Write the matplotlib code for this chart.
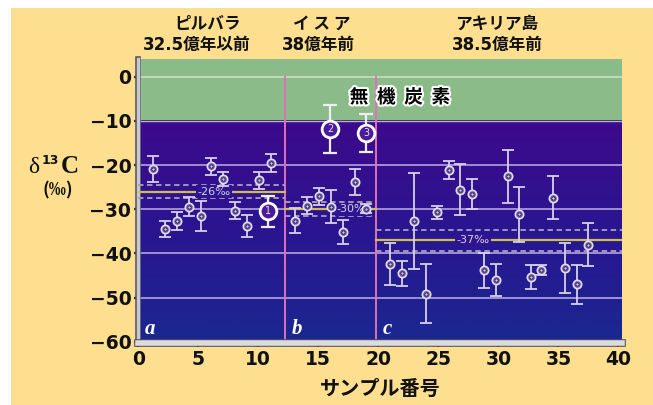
import numpy as np
import matplotlib
matplotlib.use("Agg")
import matplotlib.pyplot as plt
from matplotlib import font_manager
from matplotlib.colors import LinearSegmentedColormap
import matplotlib.patheffects as pe

# ---- data -------------------------------------------------------------
# Pilbara (a)
xa = [1.2, 2.2, 3.2, 4.2, 5.2, 6.1, 7.1, 8.1, 9.1, 10.1, 11.1]
ya = [-20.9, -34.5, -32.6, -29.4, -31.6, -20.3, -23.2, -30.3, -33.8, -23.4, -19.6]
ea = [3.0, 1.8, 2.0, 2.1, 3.4, 1.9, 1.6, 2.0, 2.4, 1.9, 2.0]
# Isua (b)
xb = [13.1, 14.1, 15.1, 16.1, 17.1, 18.1, 19.0]
yb = [-32.6, -29.2, -27.1, -29.4, -35.1, -23.9, -29.9]
eb = [2.8, 1.9, 2.0, 3.7, 2.7, 2.9, 1.0]
# Akilia (c)
xc = [21.0, 22.0, 23.0, 24.0, 24.9, 25.9, 26.8, 27.8, 28.8, 29.8, 30.8, 31.7,
      32.7, 33.6, 34.6, 35.6, 36.6, 37.5]
yc = [-42.4, -44.5, -32.6, -49.1, -30.7, -21.1, -25.6, -26.5, -43.8, -46.0,
      -22.5, -31.1, -45.3, -43.7, -27.4, -43.3, -47.0, -38.0]
ec = [4.7, 2.8, 10.9, 6.7, 1.5, 2.0, 5.8, 3.4, 4.0, 3.6, 6.0, 6.2, 2.7, 1.1,
      4.9, 5.7, 4.4, 4.8]
# numbered samples
xn = [10.8, 16.0, 19.0]
yn = [-30.5, -11.9, -12.7]
en = [3.6, 5.4, 4.3]
labels_n = ["1", "2", "3"]

# section boundaries, means and spread
bounds = [0, 12.2, 19.8, 40.27]
means = [-26, -30, -37]
spread = [1.4, 1.6, 2.35]
mean_label_x = [6.3, 17.9, 27.9]
section_letters = ["a", "b", "c"]
site_names = ["ピルバラ", "イ ス ア", "アキリア島"]
site_ages = ["32.5億年以前", "38億年前", "38.5億年前"]
name_x = [5.8, 15.3, 29.9]
age_x = [4.9, 15.0, 29.9]

inorganic = -10  # upper band: inorganic carbon
yticks = [0, -10, -20, -30, -40, -50, -60]
xticks = [0, 5, 10, 15, 20, 25, 30, 35, 40]

# ---- fonts ------------------------------------------------------------
cond = None
for f in font_manager.fontManager.ttflist:
    if f.stretch in ("condensed", "semi-condensed") and f.weight in (700, "bold") \
            and "Mono" not in f.name and "Serif" not in f.name:
        cond = f.fname
        break
if cond is None:
    for f in font_manager.fontManager.ttflist:
        if "Narrow" in f.name and f.weight in (700, "bold"):
            cond = f.fname
            break
if cond is not None:
    font_manager.fontManager.addfont(cond)
    cond_prop = font_manager.FontProperties(fname=cond)
    cond_name = cond_prop.get_name()
else:
    cond_name = "Roboto"
num_font = [cond_name, "Noto Sans CJK JP", "DejaVu Sans"]
jp = ["Noto Sans CJK JP", "DejaVu Sans"]
plt.rcParams["font.family"] = jp

W, H = 653, 405
fig = plt.figure(figsize=(W / 100, H / 100), dpi=100)
fig.patch.set_facecolor("white")
fig.patches.append(plt.Rectangle((11 / W, 0), 1, (H - 8) / H, transform=fig.transFigure,
                                 facecolor="#fddf8f", edgecolor="none", zorder=-10))

ax = fig.add_axes([138.3 / W, (H - 343.2) / H, (621.5 - 138.3) / W, (343.2 - 59) / H])
ax.set_xlim(0, 40.27)
ax.set_ylim(-60.3, 4)
ax.patch.set_alpha(0)

# background bands
ax.axhspan(inorganic, 4, color="#8abb89", zorder=0)
cmap = LinearSegmentedColormap.from_list("bg", ["#3d0a8c", "#2a1590", "#1a2890"])
grad = np.linspace(0, 1, 256).reshape(-1, 1)
ax.imshow(grad, cmap=cmap, extent=[0, 40.27, -60.3, inorganic], aspect="auto",
          origin="upper", zorder=0)

# grid
ax.axhline(0, color="#c8dcc0", lw=1.3, zorder=1)
ax.axhline(inorganic, color="#b0c0b8", lw=1.0, zorder=1)
for g in [-20, -30, -40, -50]:
    ax.axhline(g, color="#b4a4dc", lw=1.2, zorder=1)

# section separators
for b in bounds[1:3]:
    ax.plot([b, b], [0, -60.3], color="#e070b8", lw=1.4, zorder=2)

# mean lines with dashed spread
for i, m in enumerate(means):
    x0, x1 = bounds[i], bounds[i + 1]
    ax.plot([x0, x1], [m, m], color="#c8c050", lw=1.6, zorder=3)
    for s in (-spread[i], spread[i]):
        ax.plot([x0, x1], [m + s, m + s], color="#a8a0c0", lw=1.3,
                ls=(0, (3, 2)), zorder=3)
    ax.text(mean_label_x[i], m, f"{m}‰", color="#d8d0e8", fontsize=8,
            family=num_font, ha="center", va="center", zorder=4,
            bbox=dict(boxstyle="square,pad=0.12", fc="#2e1590", ec="none"))

# data points
ebc = "#d8d0e8"
for xs, ys, es in [(xa, ya, ea), (xb, yb, eb), (xc, yc, ec)]:
    ax.errorbar(xs, ys, yerr=es, fmt="none", ecolor=ebc, elinewidth=1.3,
                capsize=4, capthick=1.3, zorder=5)
    ax.plot(xs, ys, "o", ms=6, mfc="#6c5e9c", mec="#e4dcf2", mew=1.2, zorder=6)
    ax.plot(xs, ys, "o", ms=2.4, mfc="#d0c8e4", mec="#2a1a60", mew=0.6, zorder=7)

ax.errorbar(xn, yn, yerr=en, fmt="none", ecolor="#f0ecf8", elinewidth=1.6,
            capsize=5, capthick=1.6, zorder=5)
ax.plot(xn, yn, "o", ms=12, mfc="#4a1c9c", mec="white", mew=2.0, zorder=6)
for x, y, t in zip(xn, yn, labels_n):
    ax.text(x, y, t, color="#e8e0f8", fontsize=7, ha="center", va="center",
            family=["DejaVu Sans"], zorder=8)

# section letters
for b, s in zip(bounds[:3], section_letters):
    ax.text(b + 0.55, -57.2, s, color="white", fontsize=15, style="italic",
            weight="bold", family=["Liberation Serif"], ha="left", va="center",
            zorder=8)

# inorganic carbon label
ax.text(21.8, -4.7, "無  機  炭  素", fontsize=13.5, weight="bold", color="black",
        ha="center", va="center", zorder=8,
        path_effects=[pe.withStroke(linewidth=3, foreground="white")])

# site names and ages above the plot
xt = ax.get_xaxis_transform()
for x, t in zip(name_x, site_names):
    ax.text(x, 1 + 35 / 284, t, transform=xt, fontsize=12, weight="bold",
            ha="center", va="center", color="#111111")
for x, t in zip(age_x, site_ages):
    ax.text(x, 1 + 14 / 284, t, transform=xt, fontsize=12, weight="bold",
            ha="center", va="center", color="#111111", family=num_font)

# axes styling
ax.set_xticks(xticks)
ax.set_yticks(yticks)
for lab in ax.get_xticklabels() + ax.get_yticklabels():
    lab.set_family(num_font)
    lab.set_fontweight("bold")
    lab.set_fontsize(13.5)
    lab.set_color("#111111")
ax.tick_params(direction="out", length=3, width=1.6, color="#303030", pad=2)
for side in ("top", "right"):
    ax.spines[side].set_visible(False)
ax.spines["left"].set_color("#c8c8d0")
ax.spines["left"].set_linewidth(2.5)
ax.spines["bottom"].set_color("#dcdce0")
ax.spines["bottom"].set_linewidth(4)
for side in ("left", "bottom"):
    ax.spines[side].set_path_effects([pe.Stroke(linewidth=5.5 if side == "bottom" else 4,
                                                foreground="#505060"), pe.Normal()])

ax.set_xlabel("サンプル番号", fontsize=14.5, weight="bold", labelpad=6, color="#111111")

# y-axis label: delta 13C (per mil)
fig.text(28 / W, 1 - 173 / H, "δ", family=["Liberation Serif"], fontsize=17,
         ha="left", va="baseline", color="#111111")
fig.text(42 / W, 1 - 164 / H, "13", family=["DejaVu Sans"], fontsize=9,
         weight="bold", ha="left", va="baseline", color="#111111")
fig.text(61 / W, 1 - 173 / H, "C", family=["Liberation Serif"], fontsize=18,
         weight="bold", ha="left", va="baseline", color="#111111")
fig.text(58 / W, 1 - 190 / H, "(‰)", fontsize=12.5, weight="bold",
         ha="center", va="center", color="#111111")

fig.savefig("out.png", dpi=100)
